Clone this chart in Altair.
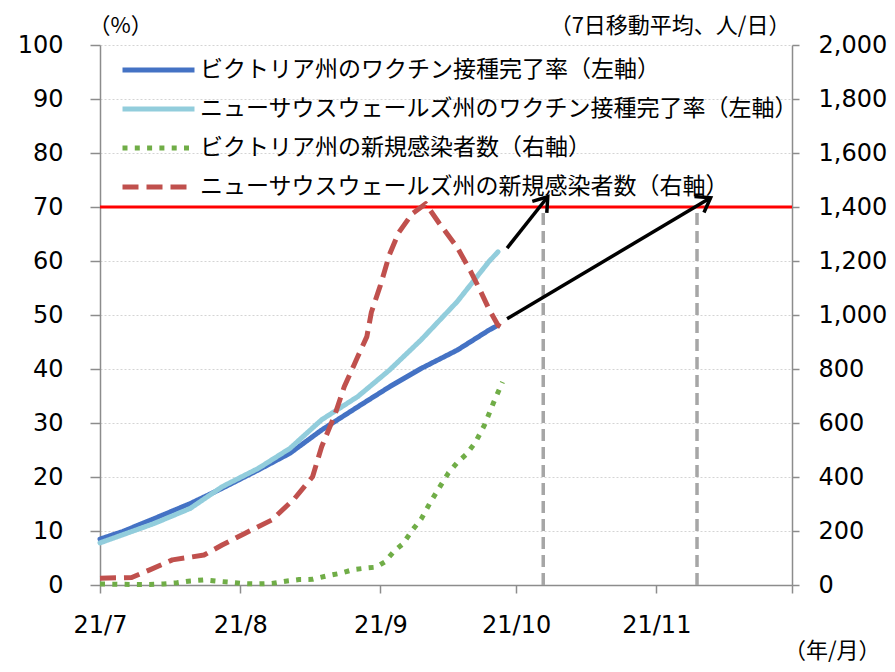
import math
import altair as alt
import pandas as pd

# ---------------- data ----------------
series_names = [
    "ビクトリア州のワクチン接種完了率（左軸）",
    "ニューサウスウェールズ州のワクチン接種完了率（左軸）",
    "ビクトリア州の新規感染者数（右軸）",
    "ニューサウスウェールズ州の新規感染者数（右軸）",
]
series_colors = ["#4472C4", "#92CDDC", "#70AD47", "#C0504D"]
series_dashes = [[1, 0], [1, 0], [5, 7.3], [16, 8]]

vax_dates = ["2021-07-01", "2021-07-06", "2021-07-13", "2021-07-21", "2021-07-28",
             "2021-08-05", "2021-08-12", "2021-08-19", "2021-08-27", "2021-09-03",
             "2021-09-10", "2021-09-18", "2021-09-25", "2021-09-27"]
vic_vax = [8.5, 9.9, 12.3, 15.1, 17.9, 21.3, 24.4, 28.7, 33.0, 36.7, 40.1, 43.5, 47.2, 48.1]
nsw_vax = [7.8, 9.3, 11.4, 14.2, 18.2, 21.6, 25.3, 30.6, 34.9, 39.8, 45.4, 52.5, 59.9, 61.7]

vic_case_dates = ["2021-07-01", "2021-07-04", "2021-07-08", "2021-07-12", "2021-07-15",
                  "2021-07-18", "2021-07-21", "2021-07-24", "2021-07-27", "2021-07-30",
                  "2021-08-02", "2021-08-05", "2021-08-08", "2021-08-11", "2021-08-14",
                  "2021-08-17", "2021-08-20", "2021-08-23", "2021-08-26", "2021-08-29",
                  "2021-08-31", "2021-09-02", "2021-09-04", "2021-09-06", "2021-09-08",
                  "2021-09-10", "2021-09-12", "2021-09-14", "2021-09-16", "2021-09-18",
                  "2021-09-20", "2021-09-22", "2021-09-24", "2021-09-26", "2021-09-28"]
vic_cases = [4, 3, 2, 2, 4, 8, 15, 19, 14, 10, 5, 4, 6, 14, 20, 21, 33, 43, 57, 63,
             66, 86, 125, 153, 202, 244, 305, 360, 414, 454, 484, 528, 592, 675, 752]

nsw_case_dates = ["2021-07-01", "2021-07-08", "2021-07-12", "2021-07-17", "2021-07-24",
                  "2021-07-28", "2021-08-02", "2021-08-08", "2021-08-13", "2021-08-17",
                  "2021-08-19", "2021-08-22", "2021-08-24", "2021-08-27", "2021-08-29",
                  "2021-08-30", "2021-09-01", "2021-09-03", "2021-09-05", "2021-09-08",
                  "2021-09-11", "2021-09-14", "2021-09-18", "2021-09-21", "2021-09-23",
                  "2021-09-25", "2021-09-27", "2021-09-28"]
nsw_cases = [25, 28, 56, 93, 111, 148, 191, 241, 320, 401, 512, 634, 734, 846, 920,
             1010, 1110, 1224, 1304, 1375, 1412, 1340, 1250, 1160, 1093, 1022, 962, 952]

target_rate = [70]
target_dates = ["2021-10-07", "2021-11-10"]
target_low = [0, 0]
target_high = [70, 70]

arrow_from_dates = ["2021-09-29", "2021-09-29"]
arrow_from_vals = [62.4, 49.3]
arrow_to_dates = ["2021-10-08", "2021-11-13"]
arrow_to_vals = [71.9, 71.7]

x_tick_dates = ["2021-07-01", "2021-08-01", "2021-09-01", "2021-10-01", "2021-11-01", "2021-12-01"]

# ---------------- layout constants ----------------
W, H = 692, 540
BLACK = "#000000"
GRAY = "#8C8C8C"
NUM_FONT = "DejaVu Sans"
JP_FONT = "Noto Sans CJK JP"


def dt(s):
    y, m, d = (int(p) for p in s.split("-"))
    return alt.DateTime(year=y, month=m, date=d, utc=True)


day0 = pd.Timestamp(x_tick_dates[0])
day_end = pd.Timestamp(x_tick_dates[-1])
span_days = (day_end - day0).days

# arrowhead orientation (screen degrees, clockwise from up)
angles = []
for a, av, b, bv in zip(arrow_from_dates, arrow_from_vals, arrow_to_dates, arrow_to_vals):
    dx = (pd.Timestamp(b) - pd.Timestamp(a)).days * W / span_days
    dy = (bv - av) * H / 100
    angles.append(math.degrees(math.atan2(dx, dy)))

vax_df = pd.concat([
    pd.DataFrame({"date": vax_dates, "value": vic_vax, "series": series_names[0]}),
    pd.DataFrame({"date": vax_dates, "value": nsw_vax, "series": series_names[1]}),
])
case_df = pd.concat([
    pd.DataFrame({"date": vic_case_dates, "value": vic_cases, "series": series_names[2]}),
    pd.DataFrame({"date": nsw_case_dates, "value": nsw_cases, "series": series_names[3]}),
])
rate_df = pd.DataFrame({"rate": target_rate})
vline_df = pd.DataFrame({"date": target_dates, "lo": target_low, "hi": target_high})
arrow_df = pd.DataFrame({"d1": arrow_from_dates, "v1": arrow_from_vals,
                         "d2": arrow_to_dates, "v2": arrow_to_vals, "ang": angles})

# ---------------- scales / axes ----------------
x_scale = alt.Scale(type="utc", domain=[dt(x_tick_dates[0]), dt(x_tick_dates[-1])])
x_axis = alt.Axis(
    values=[dt(s) for s in x_tick_dates],
    labelExpr="utcmonth(datum.value) == 11 ? '' : utcFormat(datum.value, '%y/%-m')",
    grid=False, domainColor=GRAY, domainWidth=1.5, tickColor=GRAY, tickWidth=1.5,
    tickSize=8, labelFont=NUM_FONT, labelFontSize=24, labelColor=BLACK, labelPadding=20,
    labelAngle=0, labelAlign="center", labelOverlap=False,
    title="（年/月）", titleFont=JP_FONT, titleFontSize=22, titleFontWeight="normal",
    titleColor=BLACK, titleAnchor="start", titleAlign="right", titleBaseline="alphabetic",
    titleX=780, titleY=72,
)
left_axis = alt.Axis(
    values=list(range(0, 101, 10)), grid=True, gridColor="#D4D4D4", gridDash=[2, 2],
    gridWidth=1, domainColor=GRAY, domainWidth=1.5, tickColor=GRAY, tickWidth=1.5,
    tickSize=10, labelFont=NUM_FONT, labelFontSize=24, labelColor=BLACK, labelPadding=27,
    title="（%）", titleFont=JP_FONT, titleFontSize=22, titleFontWeight="normal",
    titleColor=BLACK, titleAngle=0, titleAlign="center", titleBaseline="alphabetic",
    titleAnchor="start", titleX=20, titleY=-13,
)
right_axis = alt.Axis(
    orient="right", values=list(range(0, 2001, 200)), format=",d", grid=False,
    domainColor=GRAY, domainWidth=1.5, tickColor=GRAY, tickWidth=1.5, tickSize=7,
    labelFont=NUM_FONT, labelFontSize=24, labelColor=BLACK, labelPadding=19,
    title="（7日移動平均、人/日）", titleFont=JP_FONT, titleFontSize=22,
    titleFontWeight="normal", titleColor=BLACK, titleAngle=0, titleAlign="right",
    titleBaseline="alphabetic", titleAnchor="start", titleX=-2, titleY=-13,
)
left_scale = alt.Scale(domain=[0, 100], nice=False)
right_scale = alt.Scale(domain=[0, 2000], nice=False)

legend = alt.Legend(
    orient="none", legendX=20, legendY=6, title=None, direction="vertical",
    symbolType="stroke", symbolSize=5184, symbolStrokeWidth=5,
    labelFont=JP_FONT, labelFontSize=23, labelColor=BLACK, labelLimit=900,
    labelOffset=3, rowPadding=1, clipHeight=38, padding=0,
)
color_enc = alt.Color("series:N", scale=alt.Scale(domain=series_names, range=series_colors),
                      legend=legend, sort=series_names)
dash_enc = alt.StrokeDash("series:N", scale=alt.Scale(domain=series_names, range=series_dashes),
                          legend=legend, sort=series_names)


def X(field):
    return alt.X(field, type="temporal", scale=x_scale, axis=x_axis)


def YL(field):
    return alt.Y(field, type="quantitative", scale=left_scale, axis=left_axis)


# ---------------- layers ----------------
vlines = alt.Chart(vline_df).mark_rule(
    color="#A6A6A6", strokeWidth=3.5, strokeDash=[12, 6]
).encode(x=X("date"), y=YL("lo"), y2=alt.Y2("hi"))

red70 = alt.Chart(rate_df).mark_rule(color="#FF0000", strokeWidth=3).encode(y=YL("rate"))

vax = alt.Chart(vax_df).mark_line(strokeWidth=5, strokeCap="round", strokeJoin="round").encode(
    x=X("date"), y=YL("value"), color=color_enc, strokeDash=dash_enc, order="date:T"
)

arrows = alt.Chart(arrow_df).mark_rule(color=BLACK, strokeWidth=3.5).encode(
    x=X("d1"), y=YL("v1"), x2=alt.X2("d2"), y2=alt.Y2("v2")
)
heads = alt.Chart(arrow_df).mark_point(
    shape="M -0.7 1 L 0 0 L 0.7 1", filled=False, size=700, strokeWidth=3.5,
    color=BLACK, opacity=1, strokeJoin="miter"
).encode(x=X("d2"), y=YL("v2"), angle=alt.Angle("ang:Q", scale=None))

left_part = alt.layer(vlines, red70, vax, arrows, heads)

cases = alt.Chart(case_df).mark_line(strokeWidth=5, strokeCap="butt", strokeJoin="round").encode(
    x=X("date"),
    y=alt.Y("value", type="quantitative", scale=right_scale, axis=right_axis),
    color=color_enc, strokeDash=dash_enc, order="date:T",
)

chart = (
    alt.layer(left_part, cases)
    .resolve_scale(y="independent")
    .properties(
        width=W, height=H,
        autosize=alt.AutoSizeParams(type="none"),
        padding={"left": 92, "top": 37, "right": 95, "bottom": 79},
        background="white",
    )
    .configure_view(strokeWidth=0)
)

chart.save("out.html", embed_options={"renderer": "svg", "actions": False})
